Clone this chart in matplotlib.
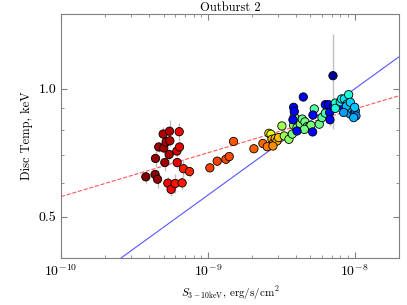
import numpy as np
import matplotlib
matplotlib.use('Agg')
import matplotlib.pyplot as plt
from matplotlib.ticker import FixedLocator, FormatStrFormatter, LogLocator

plt.rcParams['font.family'] = 'serif'
plt.rcParams['font.serif'] = ['cmr10', 'DejaVu Serif']
plt.rcParams['mathtext.fontset'] = 'cm'
plt.rcParams['axes.formatter.use_mathtext'] = True

# flux in units of 1e-9 erg/s/cm^2, disc temperature in keV
flux = [0.378, 0.440, 0.463, 0.501, 0.496, 0.520, 0.548, 0.551, 0.545, 0.509, 0.437, 0.454,
        0.534, 0.562, 0.599, 0.615, 0.618, 0.641, 0.638, 0.668, 0.682, 0.750,
        1.032, 1.158, 1.327, 1.398, 1.496, 2.059, 2.371, 2.538,
        2.606, 2.689, 2.732, 2.804, 2.878, 2.954, 2.775, 3.032,
        3.195, 3.315, 3.567, 3.758, 3.838, 4.045, 4.262, 4.398, 4.586, 4.732, 4.935, 5.039,
        5.309, 5.742, 5.988, 6.310, 3.878, 4.537,
        3.838, 3.878, 3.798, 4.045, 4.467, 5.199, 5.172, 6.310, 6.648, 6.753, 6.789, 7.116, 7.191, 8.414,
        7.381, 7.381, 7.985, 8.154, 8.502, 8.865, 9.100, 8.959, 9.343, 9.590, 9.948, 10.1,
        10.2, 9.845, 8.773, 9.343, 8.414, 10.0]
temp = [0.621, 0.686, 0.730, 0.726, 0.783, 0.750, 0.795, 0.755, 0.701, 0.671, 0.629, 0.613,
        0.600, 0.580, 0.599, 0.714, 0.671, 0.730, 0.793, 0.601, 0.649, 0.639,
        0.652, 0.676, 0.683, 0.693, 0.752, 0.723, 0.744, 0.731,
        0.786, 0.782, 0.761, 0.747, 0.764, 0.754, 0.734, 0.768,
        0.818, 0.775, 0.761, 0.783, 0.821, 0.811, 0.826, 0.849, 0.836, 0.815, 0.818, 0.821,
        0.897, 0.826, 0.856, 0.877, 0.861, 0.803,
        0.905, 0.885, 0.846, 0.796, 0.957, 0.868, 0.792, 0.918, 0.918, 0.880, 0.846, 1.074, 0.910, 0.905,
        0.926, 0.900, 0.933, 0.947, 0.947, 0.921, 0.969, 0.888, 0.872, 0.897, 0.877, 0.888,
        0.864, 0.856, 0.910, 0.930, 0.880, 0.905]
temp_err = [0.02, 0.03, 0.02, 0.02, 0.03, 0.02, 0.05, 0.02, 0.02, 0.03, 0.02, 0.03,
            0.02, 0.02, 0.03, 0.02, 0.02, 0.02, 0.04, 0.02, 0.03, 0.02,
            0.01, 0.01, 0.01, 0.01, 0.01, 0.01, 0.01, 0.01,
            0.01, 0.01, 0.01, 0.01, 0.01, 0.01, 0.01, 0.01,
            0.01, 0.01, 0.01, 0.01, 0.01, 0.01, 0.01, 0.01, 0.01, 0.01, 0.01, 0.01,
            0.01, 0.01, 0.01, 0.01, 0.01, 0.01,
            0.01, 0.01, 0.01, 0.01, 0.01, 0.01, 0.01, 0.01, 0.01, 0.03, 0.03, 0.27, 0.01, 0.01,
            0.01, 0.01, 0.01, 0.01, 0.01, 0.01, 0.01, 0.01, 0.01, 0.01, 0.01, 0.01,
            0.01, 0.01, 0.01, 0.01, 0.01, 0.01]
# outburst phase (0 = peak, 1 = end), used for colour
phase = [1.00, 0.98, 0.97, 0.97, 0.96, 0.96, 0.95, 0.95, 0.96, 0.97, 0.99, 0.98,
         0.90, 0.90, 0.89, 0.92, 0.91, 0.91, 0.90, 0.88, 0.88, 0.87,
         0.84, 0.84, 0.83, 0.83, 0.82, 0.81, 0.80, 0.78,
         0.66, 0.63, 0.72, 0.74, 0.70, 0.72, 0.76, 0.71,
         0.55, 0.54, 0.53, 0.50, 0.52, 0.48, 0.50, 0.47, 0.49, 0.46, 0.47, 0.50,
         0.45, 0.48, 0.46, 0.44, 0.51, 0.49,
         0.10, 0.11, 0.12, 0.13, 0.09, 0.12, 0.13, 0.11, 0.10, 0.11, 0.12, 0.02, 0.10, 0.12,
         0.40, 0.38, 0.36, 0.37, 0.35, 0.34, 0.39, 0.30, 0.28, 0.33, 0.29, 0.27,
         0.26, 0.30, 0.31, 0.33, 0.28, 0.32]

# power-law lines T = A * S^k
fit_amp, fit_idx = 0.558, 0.103   # fit, normalised at 1e-10
t4_amp, t4_idx = 100.0, 0.25      # L ~ T^4

S = np.array(flux) * 1e-9
T = np.array(temp)

fig = plt.figure(figsize=(4.07, 3.05), dpi=100)
ax = fig.add_axes([0.150, 0.154, 0.830, 0.800])

xx = np.logspace(-10, np.log10(2e-8), 200)
ax.plot(xx, t4_amp * xx**t4_idx, '-', color='#4444ff', lw=0.8, alpha=0.9, zorder=1)
ax.plot(xx, fit_amp * (xx / 1e-10)**fit_idx, '--', color='#ff4444', lw=0.8, alpha=0.9, zorder=1)

ax.errorbar(S, T, yerr=temp_err, fmt='none', ecolor='0.75', elinewidth=1, zorder=2)
ax.scatter(S, T, c=phase, cmap='jet', vmin=0, vmax=1, s=36, edgecolors='k',
           linewidths=0.6, zorder=3)

ax.set_xscale('log')
ax.set_yscale('log')
ax.set_xlim(1e-10, 2e-8)
ax.set_ylim(0.4, 1.5)
ax.yaxis.set_major_locator(FixedLocator([0.5, 1.0]))
ax.yaxis.set_major_formatter(FormatStrFormatter('%.1f'))
ax.yaxis.set_minor_locator(FixedLocator([0.4, 0.6, 0.7, 0.8, 0.9]))
ax.yaxis.set_minor_formatter(plt.NullFormatter())
ax.xaxis.set_minor_locator(LogLocator(subs=np.arange(2, 10)))

for sp in ax.spines.values():
    sp.set_color('0.5')
ax.tick_params(which='both', direction='in', top=True, right=True, color='0.5', labelsize=10)
ax.tick_params(which='major', length=4)
ax.tick_params(which='minor', length=2)

ax.set_xlabel(r'$S_{3-10\mathrm{keV}}$, erg/s/cm$^2$', fontsize=8)
ax.set_ylabel('Disc Temp, keV', fontsize=9)
ax.set_title('Outburst 2', fontsize=9, pad=2)

fig.savefig('out.png', dpi=100)
